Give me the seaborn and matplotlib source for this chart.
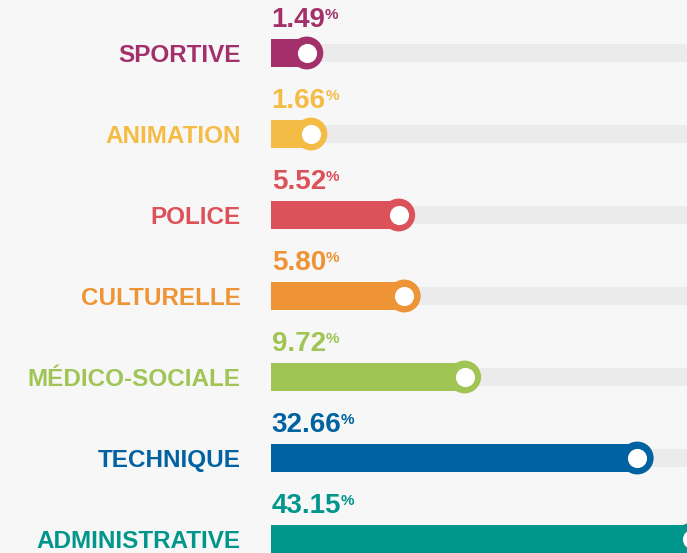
import numpy as np
import matplotlib
matplotlib.use("Agg")
import matplotlib.pyplot as plt
import seaborn as sns

# === data ===
categories = ["SPORTIVE", "ANIMATION", "POLICE", "CULTURELLE",
              "MÉDICO-SOCIALE", "TECHNIQUE", "ADMINISTRATIVE"]
shares = [1.49, 1.66, 5.52, 5.80, 9.72, 32.66, 43.15]
share_labels = ["1.49", "1.66", "5.52", "5.80", "9.72", "32.66", "43.15"]
colors = ["#a3306a", "#f5bc45", "#db525a", "#ee9436",
          "#a0c555", "#0062a0", "#00968c"]
track_max = 100


# The source squeezes long bars: about linear for small shares, ~sqrt for big ones.
def squash(v):
    v = np.asarray(v, dtype=float)
    a = np.abs(v)
    return np.sign(v) * a / (1 + (a / 7.1) ** 4) ** 0.125


_grid = np.linspace(0, 500, 50001)
_sq = squash(_grid)


def unsquash(t):
    t = np.asarray(t, dtype=float)
    return np.sign(t) * np.interp(np.abs(t), _sq, _grid)


# === style ===
sns.set_style("white")
plt.rcParams["font.family"] = ["Liberation Sans", "DejaVu Sans"]
plt.rcParams["font.weight"] = "bold"

bg = "#f7f7f7"
W, H = 687, 553
fig = plt.figure(figsize=(W / 100, H / 100), dpi=100, facecolor=bg)
ax = fig.add_axes([271 / W, 0, (W - 271) / W, 1])
ax.set_facecolor(bg)

pos = np.arange(len(categories))

# grey tracks, then the coloured bars
sns.barplot(x=[track_max] * len(categories), y=categories, color="#ebebeb",
            width=0.23, errorbar=None, saturation=1, linewidth=0, ax=ax)
sns.barplot(x=shares, y=categories, hue=categories, palette=colors,
            width=0.335, errorbar=None, saturation=1, linewidth=0,
            legend=False, ax=ax)

# ring knob at the end of each bar
sns.scatterplot(x=shares, y=pos, hue=categories, palette=colors, s=560,
                linewidth=0, legend=False, ax=ax, zorder=3)
sns.scatterplot(x=shares, y=pos, color="white", s=190, linewidth=0,
                legend=False, ax=ax, zorder=4)

ax.set_xscale("function", functions=(squash, unsquash))
ax.set_xlim(0, float(unsquash(squash(max(shares)) * 416 / 421)))
ax.set_ylim(500 / 81, -53 / 81)

ax.set_yticks(pos)
ax.set_yticklabels(categories, fontsize=17.5, fontweight="bold")
for t, c in zip(ax.get_yticklabels(), colors):
    t.set_color(c)
ax.tick_params(axis="y", length=0, pad=22)
ax.set_xticks([])
ax.set_xlabel("")
ax.set_ylabel("")
ax.grid(False)
sns.despine(ax=ax, left=True, bottom=True)

# value labels with a small % sign
for i, (lab, c) in enumerate(zip(share_labels, colors)):
    t = ax.annotate(lab, xy=(0, i), xytext=(0.5, 18.8), textcoords="offset points",
                    ha="left", va="baseline", fontsize=20, fontweight="bold",
                    color=c, annotation_clip=False)
    ax.annotate("%", xy=(1, 1), xycoords=t, xytext=(-0.5, -0.5),
                textcoords="offset points", ha="left", va="top",
                fontsize=11, fontweight="bold", color=c, annotation_clip=False)

fig.savefig("out.png", dpi=100, facecolor=bg)
